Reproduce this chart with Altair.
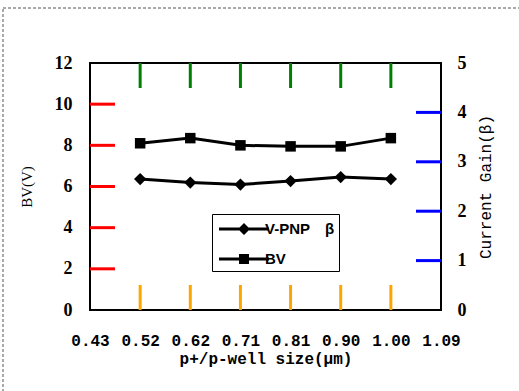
import altair as alt
import pandas as pd

# ---- data ----
x_labels = ["0.43", "0.52", "0.62", "0.71", "0.81", "0.90", "1.00", "1.09"]
sizes = ["0.52", "0.62", "0.71", "0.81", "0.90", "1.00"]
bv_values = [8.1, 8.35, 8.0, 7.95, 7.95, 8.35]          # BV (V), left axis
beta_values = [2.65, 2.58, 2.54, 2.61, 2.69, 2.65]      # V-PNP beta, right axis
series_names = ["V-PNP\u2003\u03b2\u2003\u2009", "BV"]
left_ticks = [0, 2, 4, 6, 8, 10, 12]
right_ticks = [0, 1, 2, 3, 4, 5]

df_bv = pd.DataFrame({"size": sizes, "bv": bv_values})
df_beta = pd.DataFrame({"size": sizes, "beta": beta_values})
df_legend = pd.DataFrame({"size": sizes[:2], "series": series_names})
df_frame = pd.DataFrame({"k": [0]})
df_lt = pd.DataFrame({"v": left_ticks[1:-1]})
df_rt = pd.DataFrame({"v": right_ticks[1:-1]})
df_xt = pd.DataFrame({"size": sizes})

W, H = 351, 247
TL = 25
MONO = "Liberation Mono"
SERIF = "Liberation Serif"

xscale = alt.Scale(type="point", domain=x_labels, padding=0)
lscale = alt.Scale(domain=[0, 12], nice=False)
rscale = alt.Scale(domain=[0, 5], nice=False)

x_main_axis = alt.Axis(orient="bottom", title="p+/p-well size(\u03bcm)", labelAngle=0,
                       ticks=False, domain=False, grid=False,
                       labelFont=MONO, labelFontWeight="bold", labelFontSize=16,
                       labelColor="black", labelPadding=22,
                       titleFont=MONO, titleFontWeight="bold", titleFontSize=16,
                       titleColor="black", titlePadding=2)

y_left_axis = alt.Axis(orient="left", values=left_ticks, ticks=False, domain=False, grid=False,
                       labelFont=SERIF, labelFontWeight="bold", labelFontSize=18,
                       labelColor="black", labelPadding=18,
                       title="BV(V)", titleFont=SERIF, titleFontWeight="normal",
                       titleFontSize=15, titleColor="black", titlePadding=20)

y_right_axis = alt.Axis(orient="right", values=right_ticks, ticks=False, domain=False, grid=False,
                        labelFont=SERIF, labelFontWeight="bold", labelFontSize=18,
                        labelColor="black", labelPadding=16,
                        title="Current Gain(\u03b2)", titleFont=MONO, titleFontWeight="normal",
                        titleFontSize=16, titleColor="black", titleAngle=270,
                        titleBaseline="top", titlePadding=11)

# ---- left group: BV ----
bv_line = alt.Chart(df_bv).mark_line(color="black", strokeWidth=3).encode(
    x=alt.X("size:O", scale=xscale, sort=None, axis=x_main_axis),
    y=alt.Y("bv:Q", scale=lscale, axis=y_left_axis),
)
bv_pts = alt.Chart(df_bv).mark_point(shape="square", filled=True, color="black",
                                     size=110, opacity=1).encode(
    x=alt.X("size:O", scale=xscale, sort=None),
    y=alt.Y("bv:Q", scale=lscale),
)
left_tick_marks = alt.Chart(df_lt).mark_rule(color="red", strokeWidth=3).encode(
    y=alt.Y("v:Q", scale=lscale), x=alt.value(0), x2=alt.value(TL),
)
left = alt.layer(bv_line, bv_pts, left_tick_marks)

# ---- right group: beta ----
beta_line = alt.Chart(df_beta).mark_line(color="black", strokeWidth=3).encode(
    x=alt.X("size:O", scale=xscale, sort=None),
    y=alt.Y("beta:Q", scale=rscale, axis=y_right_axis),
)
beta_pts = alt.Chart(df_beta).mark_point(shape="diamond", filled=True, color="black",
                                         size=150, opacity=1).encode(
    x=alt.X("size:O", scale=xscale, sort=None),
    y=alt.Y("beta:Q", scale=rscale),
)
right_tick_marks = alt.Chart(df_rt).mark_rule(color="blue", strokeWidth=3).encode(
    y=alt.Y("v:Q", scale=rscale), x=alt.value(W - TL), x2=alt.value(W),
)
right = alt.layer(beta_line, beta_pts, right_tick_marks)

top_ticks = alt.Chart(df_xt).mark_rule(color="green", strokeWidth=3).encode(
    x=alt.X("size:O", scale=xscale, sort=None), y=alt.value(0), y2=alt.value(TL),
)
bottom_ticks = alt.Chart(df_xt).mark_rule(color="orange", strokeWidth=3).encode(
    x=alt.X("size:O", scale=xscale, sort=None), y=alt.value(H - TL), y2=alt.value(H),
)

diamond_path = "M-2.5,-0.15H2.5V0.15H-2.5ZM-0.6,0L0,-0.6L0.6,0L0,0.6Z"
square_path = "M-2.5,-0.15H2.5V0.15H-2.5ZM-0.5,-0.5H0.5V0.5H-0.5Z"
legend_layer = alt.Chart(df_legend).mark_point(filled=True, color="black", opacity=1,
                                               size=0).encode(
    x=alt.X("size:O", scale=xscale, sort=None),
    y=alt.value(-500),
    shape=alt.Shape("series:N",
                    scale=alt.Scale(domain=series_names, range=[diamond_path, square_path]),
                    legend=alt.Legend(orient="none", legendX=122, legendY=151, title=None,
                                      padding=4, strokeColor="black", fillColor="white",
                                      symbolSize=400, symbolOffset=17, labelOffset=10,
                                      rowPadding=10,
                                      symbolFillColor="black", symbolOpacity=1,
                                      labelFont="Liberation Sans", labelFontWeight="bold",
                                      labelFontSize=15, labelColor="black")),
)

frame = alt.Chart(df_frame).mark_rect(fill="transparent", stroke="#555", strokeWidth=1,
                                      strokeDash=[3, 2]).encode(
    x=alt.value(-87), y=alt.value(-55), x2=alt.value(440), y2=alt.value(400),
)

chart = alt.layer(left, right, legend_layer, top_ticks, bottom_ticks, frame).resolve_scale(
    y="independent"
).properties(
    width=W, height=H,
    autosize=alt.AutoSizeParams(type="none"),
    padding={"left": 90, "top": 63, "right": 78, "bottom": 81},
    background="white",
).configure_view(stroke="black", strokeWidth=2)

chart.save("out.html", embed_options={"renderer": "svg", "actions": False})
